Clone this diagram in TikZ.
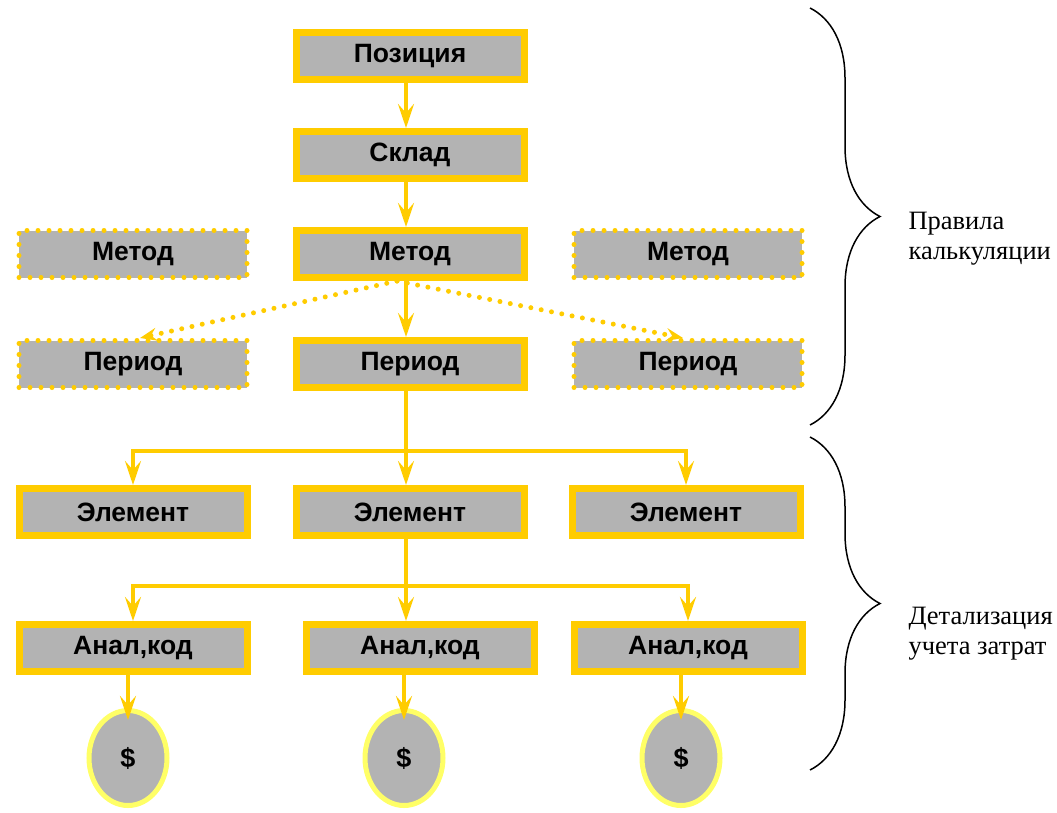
\documentclass[tikz,border=0pt]{standalone}
\usepackage{fontspec}
\setmainfont{Liberation Serif}
\newfontfamily\boxfont{Liberation Sans}
\usetikzlibrary{arrows.meta,decorations.pathreplacing,shapes.geometric}

\definecolor{gold}{HTML}{FFCC00}
\definecolor{boxgray}{HTML}{B3B3B3}
\definecolor{paleyellow}{HTML}{FFFF66}

\tikzset{
  block/.style={rectangle, fill=boxgray, draw=gold, line width=7pt,
    minimum width=228pt, minimum height=47pt, inner sep=0pt,
    font=\boxfont\bfseries\fontsize{26.5}{30}\selectfont},
  optblock/.style={block, line width=5pt, line cap=round,
    dash pattern=on 0pt off 11pt},
  coin/.style={ellipse, fill=boxgray, draw=paleyellow, line width=5pt,
    minimum width=78pt, minimum height=95pt, inner sep=0pt,
    font=\boxfont\bfseries\fontsize{27}{30}\selectfont},
  link/.style={draw=gold, line width=4.5pt,
    -{Stealth[length=24pt,width=16pt,inset=9pt]}},
  optlink/.style={draw=gold, line width=5pt, line cap=round,
    dash pattern=on 0pt off 10.5pt,
    -{Stealth[length=17pt,width=13pt,inset=6pt]}},
  bracket/.style={draw, line width=1.5pt,
    decorate, decoration={brace, amplitude=70pt}},
  sidelabel/.style={anchor=west, align=left,
    font=\fontsize{26.5}{30}\selectfont}
}

\begin{document}
\begin{tikzpicture}[x=1pt, y=-1pt]

    % --- Frame ---
    \useasboundingbox (0,0) rectangle (1057,812);

    % --- Coordinates ---
    % vertical trunk of the tree (a bit left of the box centres)
    \coordinate (trunk) at (406,0);
    % forks of the two lower levels
    \coordinate (fork1) at (406,451);
    \coordinate (fork2) at (406,586);

    % --- Calculation rules ---
    \node[block] (poz)   at (410,56)  {Позиция};
    \node[block] (sklad) at (410,155) {Склад};

    \node[optblock] (metL) at (133,254) {Метод};
    \node[block]    (met)  at (410,254) {Метод};
    \node[optblock] (metR) at (688,254) {Метод};

    \node[optblock] (perL) at (133,364) {Период};
    \node[block]    (per)  at (410,364) {Период};
    \node[optblock] (perR) at (688,364) {Период};

    % --- Cost detail ---
    \node[block] (elemL) at (133,512) {Элемент};
    \node[block] (elem)  at (410,512) {Элемент};
    \node[block] (elemR) at (686,512) {Элемент};

    \node[block] (analL) at (133,648) {Анал,код};
    \node[block] (anal)  at (420,648) {Анал,код};
    \node[block] (analR) at (688,648) {Анал,код};

    \node[coin] (coinL) at (128,758) {\$};
    \node[coin] (coin)  at (404,758) {\$};
    \node[coin] (coinR) at (681,758) {\$};

    % --- Connectors ---
    \draw[link] (poz.south -| trunk) -- (sklad.north -| trunk);
    \draw[link] (sklad.south -| trunk) -- (met.north -| trunk);
    \draw[link] (met.south -| trunk) -- (per.north -| trunk);

    % optional branches from the method
    \draw[optlink] ([xshift=-13pt]met.south) -- ([xshift=7pt]perL.north);
    \draw[optlink] ([xshift=-13pt]met.south) -- ([xshift=-5pt]perR.north);

    % period splits into the elements
    \draw[link] (per.south -| trunk) -- (elem.north -| trunk);
    \draw[link] (fork1) -| (elemL.north);
    \draw[link] (fork1) -| (elemR.north);

    % element splits into the analytic codes
    \draw[link] (elem.south -| trunk) -- (anal.north -| trunk);
    \draw[link] (fork2) -| (analL.north);
    \draw[link] (fork2) -| (analR.north);

    % codes down to the money
    \draw[link] (analL.south -| coinL) -- ([yshift=-12pt]coinL.north);
    \draw[link] (anal.south -| coin) -- ([yshift=-12pt]coin.north);
    \draw[link] (analR.south -| coinR) -- ([yshift=-12pt]coinR.north);

    % --- Braces and their labels ---
    \draw[bracket] (810,8) -- (810,425);
    \draw[bracket] (810,437) -- (810,770);

    \node[sidelabel] (rules)  at (905,239) {Правила\\калькуляции};
    \node[sidelabel] (detail) at (905,634) {Детализация\\учета затрат};

\end{tikzpicture}
\end{document}
